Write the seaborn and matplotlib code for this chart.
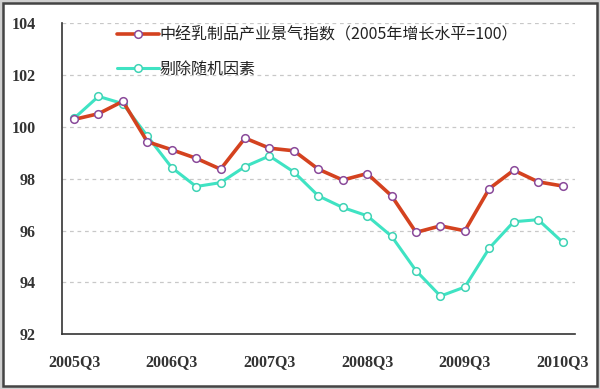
import pandas as pd
import seaborn as sns
import matplotlib
matplotlib.use('Agg')
import matplotlib.pyplot as plt
from matplotlib.patches import Rectangle

# 季度（2005Q3 - 2010Q3）
quarters = [f"{y}Q{q}" for y in range(2005, 2011) for q in range(1, 5)][2:23]

index_name = "中经乳制品产业景气指数（2005年增长水平=100）"
adj_name = "剔除随机因素"

index_vals = [100.29, 100.51, 100.99, 99.43, 99.12, 98.79, 98.37, 99.57, 99.18, 99.08,
              98.37, 97.95, 98.20, 97.34, 95.93, 96.18, 95.99, 97.62, 98.33, 97.88, 97.72]
adj_vals = [100.33, 101.18, 100.90, 99.65, 98.43, 97.70, 97.85, 98.47, 98.88, 98.26,
            97.34, 96.89, 96.57, 95.78, 94.45, 93.47, 93.82, 95.32, 96.34, 96.42, 95.55]

label_quarters = ["2005Q3", "2006Q3", "2007Q3", "2008Q3", "2009Q3", "2010Q3"]
y_ticks = [92, 94, 96, 98, 100, 102, 104]

df = pd.DataFrame({
    "pos": list(range(len(quarters))) * 2,
    "value": index_vals + adj_vals,
    "series": [index_name] * len(quarters) + [adj_name] * len(quarters),
})

sns.set_style("white")
plt.rcParams["font.family"] = ["Noto Sans CJK SC", "DejaVu Sans"]

fig = plt.figure(figsize=(6, 3.89), dpi=100)
fig.patch.set_facecolor("#d0d0d0")
fig.patches.append(Rectangle((0.005, 0.007), 0.99, 0.985, transform=fig.transFigure,
                             facecolor="white", edgecolor="#444444", linewidth=1.8, zorder=-10))
ax = fig.add_axes([0.103, 0.141, 0.855, 0.799])
ax.set_facecolor("none")

palette = {index_name: "#d4421f", adj_name: "#3fe3c3"}
for name, lw, mec in [(adj_name, 2.2, "#3fd3b5"), (index_name, 2.6, "#8a4a9a")]:
    sub = df[df["series"] == name]
    sns.lineplot(data=sub, x="pos", y="value", color=palette[name], lw=lw, marker="o",
                 markersize=5.5, markerfacecolor="white", markeredgecolor=mec,
                 markeredgewidth=1.1, label=name, ax=ax)

ax.set_xlim(-0.5, len(quarters) - 0.5)
ax.set_ylim(92, 104)
ax.set_xlabel("")
ax.set_ylabel("")

# 刻度线在类别边界，标签在类别中心
ax.set_xticks([i - 0.5 for i in range(len(quarters) + 1)])
ax.set_xticklabels([])
ax.set_xticks([quarters.index(q) for q in label_quarters], minor=True)
ax.set_xticklabels(label_quarters, minor=True)
ax.tick_params(axis="x", which="major", direction="in", length=5, width=1, color="#333333")
ax.tick_params(axis="x", which="minor", length=0, pad=14)
ax.set_yticks(y_ticks)
ax.tick_params(axis="y", direction="in", length=4, width=1, color="#333333", pad=19)
for lab in ax.get_xticklabels(minor=True) + ax.get_yticklabels():
    lab.set_fontfamily("Liberation Serif")
    lab.set_fontweight("bold")
    lab.set_fontsize(11.5)
    lab.set_color("#333333")

for y in y_ticks[1:]:
    ax.axhline(y, color="#c8c8c8", lw=0.9, ls=(0, (3, 3)), zorder=0)

for side in ["top", "right"]:
    ax.spines[side].set_visible(False)
for side in ["left", "bottom"]:
    ax.spines[side].set_color("#333333")
    ax.spines[side].set_linewidth(1.2)

handles, labels = ax.get_legend_handles_labels()
order = [labels.index(index_name), labels.index(adj_name)]
leg = ax.legend([handles[i] for i in order], [labels[i] for i in order],
                loc="upper left", bbox_to_anchor=(0.108, 0.99), frameon=False,
                borderpad=0, borderaxespad=0, handlelength=2.6, handletextpad=0.05,
                labelspacing=1.08, prop={"family": ["Noto Sans CJK SC", "DejaVu Sans"], "size": 11.5})
for t in leg.get_texts():
    t.set_color("#222222")

fig.savefig("out.png", dpi=100, facecolor=fig.get_facecolor())
